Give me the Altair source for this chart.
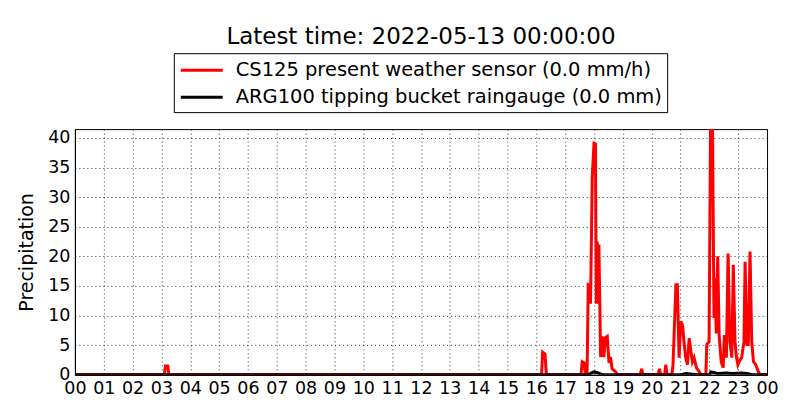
import altair as alt
import pandas as pd

TITLE = "Latest time: 2022-05-13 00:00:00"
SERIES = ["CS125 present weather sensor (0.0 mm/h)",
          "ARG100 tipping bucket raingauge (0.0 mm)"]
COLORS = ["#ff0000", "#000000"]

# CS125 precipitation intensity (hours of day, mm/h)
cs_hours = [0.0, 3.10, 3.14, 3.22, 3.26, 16.18, 16.22, 16.30, 16.35,
            17.55, 17.59, 17.66, 17.70, 17.76, 17.80, 17.86, 17.88, 17.94,
            18.00, 18.05, 18.08, 18.11, 18.14, 18.17, 18.23, 18.29, 18.34,
            18.40, 18.46, 18.52, 18.57, 18.63, 18.75, 18.81,
            19.60, 19.65, 19.70, 20.22, 20.27, 20.31, 20.45, 20.49, 20.53,
            20.70, 20.74, 20.84, 20.89, 20.95, 21.01, 21.07, 21.13, 21.18,
            21.24, 21.30, 21.36, 21.41, 21.47, 21.55, 21.65, 21.71,
            21.88, 21.91, 21.99, 22.05, 22.10, 22.16, 22.20, 22.24, 22.29,
            22.34, 22.41, 22.48, 22.52, 22.59, 22.65, 22.71, 22.78, 22.83,
            22.89, 22.94, 22.99, 23.03, 23.12, 23.20, 23.24, 23.30, 23.35,
            23.41, 23.47, 23.53, 23.61, 23.70, 23.76, 24.0]
cs_values = [0.0, 0.0, 1.5, 1.5, 0.0, 0.0, 3.8, 3.5, 0.0,
             0.0, 2.2, 2.0, 0.0, 0.0, 15.2, 15.0, 12.0, 33.5,
             39.1, 39.0, 12.0, 22.5, 12.0, 22.0, 3.0, 6.5, 3.0,
             6.3, 6.5, 2.0, 3.0, 1.0, 0.5, 0.0,
             0.0, 1.0, 0.0, 0.0, 1.0, 0.0, 0.0, 1.7, 0.0,
             0.0, 1.7, 15.2, 15.2, 2.9, 9.0, 8.4, 5.1, 2.9,
             1.7, 6.2, 4.0, 2.2, 2.9, 1.2, 0.5, 0.0,
             0.0, 5.1, 5.6, 48.0, 48.0, 9.6, 16.4, 7.0, 20.0,
             6.7, 2.2, 1.2, 6.7, 2.9, 20.5, 5.6, 2.9, 18.6,
             5.6, 2.9, 1.7, 2.2, 2.9, 5.6, 19.1, 5.1, 5.1,
             20.8, 5.6, 2.2, 1.7, 0.5, 0.0, 0.0]

# ARG100 tipping bucket (hours of day, mm)
arg_hours = [0.0, 17.80, 17.90, 18.00, 18.10, 18.20, 18.30, 21.00, 21.20,
             21.40, 21.60, 22.00, 22.05, 22.15, 22.30, 22.60, 22.80, 23.10,
             23.30, 23.50, 24.0]
arg_values = [0.0, 0.0, 0.3, 0.5, 0.4, 0.2, 0.0, 0.0, 0.2,
              0.1, 0.0, 0.0, 0.5, 0.4, 0.2, 0.3, 0.2, 0.3,
              0.2, 0.0, 0.0]

Y_TICKS = [0, 5, 10, 15, 20, 25, 30, 35, 40]
X_TICKS = list(range(0, 25))

cs = pd.DataFrame({"hour": cs_hours, "value": cs_values, "series": SERIES[0]})
arg = pd.DataFrame({"hour": arg_hours, "value": arg_values, "series": SERIES[1]})

FONT = "DejaVu Sans"

x = alt.X("hour:Q",
          scale=alt.Scale(domain=[0, 24], nice=False, zero=False),
          axis=alt.Axis(values=X_TICKS, title=None, labelOverlap=False,
                        labelFlush=False,
                        labelExpr="datum.value == 24 ? '00' : (datum.value < 10 ? '0' + datum.value : '' + datum.value)"))
y = alt.Y("value:Q",
          scale=alt.Scale(domain=[0, 41.5], nice=False),
          axis=alt.Axis(values=Y_TICKS, title="Precipitation", labelOverlap=False))
color = alt.Color("series:N",
                  scale=alt.Scale(domain=SERIES, range=COLORS),
                  sort=SERIES,
                  title=None,
                  legend=alt.Legend(orient="none", legendX=99, legendY=-76,
                                    symbolType="M-2,0H2", symbolSize=441,
                                    symbolStrokeWidth=3, symbolOffset=11,
                                    labelOffset=22, rowPadding=5, padding=5,
                                    strokeColor="black", fillColor="white",
                                    labelFont=FONT, labelFontSize=19.5,
                                    labelColor="black", labelLimit=0,
                                    cornerRadius=0))

red = alt.Chart(cs).mark_line(clip=True, strokeWidth=3).encode(x=x, y=y, color=color)
black = alt.Chart(arg).mark_line(clip=True, strokeWidth=3).encode(x=x, y=y, color=color)

chart = alt.layer(red, black).properties(
    width=693, height=246,
    title=alt.TitleParams(TITLE, font=FONT, fontSize=23, fontWeight="normal",
                          color="black", anchor="middle", frame="group",
                          baseline="alphabetic", offset=-14),
    autosize=alt.AutoSizeParams(type="none"),
    padding={"left": 67, "top": 121, "right": 25, "bottom": 37},
).configure_view(
    stroke="black", strokeWidth=1
).configure_axis(
    labelFont=FONT, labelFontSize=17.5, labelColor="black",
    titleFont=FONT, titleFontSize=19, titleFontWeight="normal", titleColor="black",
    domainColor="black", domainWidth=1,
    tickColor="black", tickSize=0,
    grid=True, gridColor="black", gridDash=[1, 3], gridWidth=0.8, gridOpacity=1,
).configure_axisX(
    labelPadding=5
).configure_axisY(
    labelPadding=5, titlePadding=11
)

chart.save("out.html", embed_options={"renderer": "svg", "actions": False})
